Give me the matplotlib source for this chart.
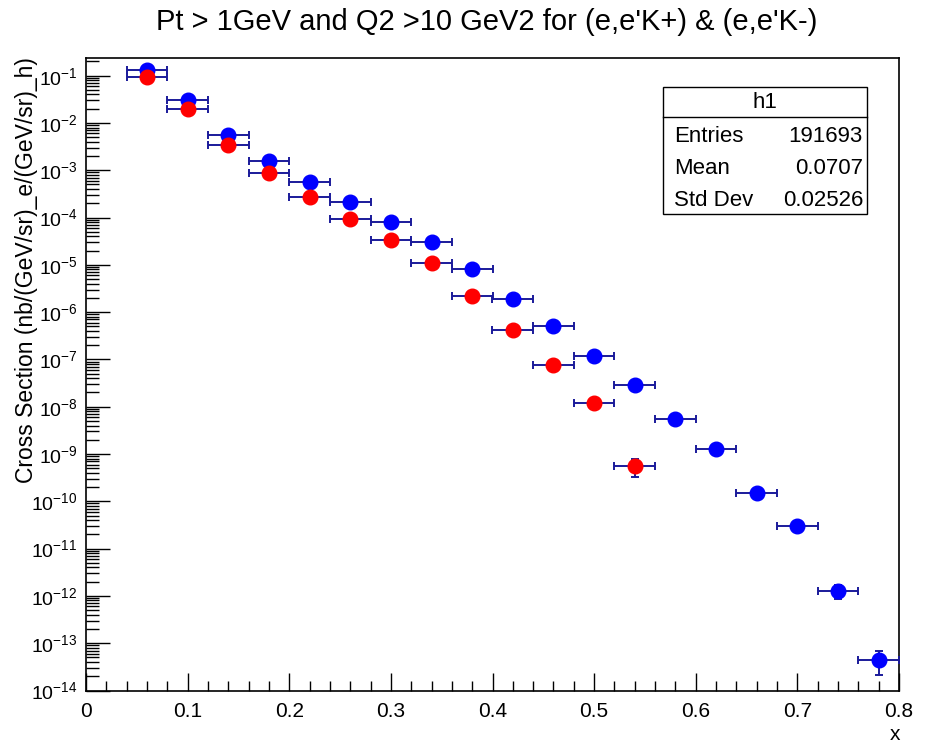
import numpy as np
import matplotlib
matplotlib.use("Agg")
import matplotlib.pyplot as plt
from matplotlib.ticker import LogLocator, MultipleLocator, LogFormatterSciNotation

plt.rcParams['font.family'] = ['Liberation Sans', 'DejaVu Sans']
plt.rcParams['mathtext.fontset'] = 'custom'
plt.rcParams['mathtext.rm'] = 'Liberation Sans'
plt.rcParams['mathtext.it'] = 'Liberation Sans:italic'

# ---- data ----
bin_width = 0.04
x_kplus = np.round(np.arange(0.06, 0.79, 0.04), 2)
y_kplus = [1.3e-1, 3.0e-2, 5.7e-3, 1.55e-3, 5.7e-4, 2.1e-4, 8.1e-5, 3.0e-5,
           8.1e-6, 1.9e-6, 5.0e-7, 1.2e-7, 2.9e-8, 5.6e-9, 1.26e-9, 1.5e-10,
           2.95e-11, 1.3e-12, 4.4e-14]
yerr_kplus = [1e-4, 3e-5, 6e-6, 2e-6, 7e-7, 3e-7, 1.2e-7, 5e-8,
              1.5e-8, 4e-9, 1.5e-9, 4e-10, 1.2e-10, 2.5e-11, 7e-12, 1.2e-12,
              3e-13, 4.3e-13, 2.3e-14]

x_kminus = np.round(np.arange(0.06, 0.55, 0.04), 2)
y_kminus = [9.2e-2, 2.0e-2, 3.4e-3, 8.8e-4, 2.7e-4, 9.5e-5, 3.3e-5, 1.1e-5,
            2.2e-6, 4.1e-7, 7.5e-8, 1.18e-8, 5.6e-10]
yerr_kminus = [1e-4, 3e-5, 5e-6, 1.5e-6, 5e-7, 2e-7, 8e-8, 3e-8,
               8e-9, 2e-9, 5e-10, 1e-10, 2.4e-10]

stats_labels = ['Entries', 'Mean', 'Std Dev']
stats_values = ['191693', '0.0707', '0.02526']

W, H = 932, 745
fig = plt.figure(figsize=(W / 100, H / 100), dpi=100)
ax = fig.add_axes([86 / W, 1 - 690.5 / H, 813 / W, 632.8 / H])

err_col = '#1a1a9a'
ax.errorbar(x_kplus, y_kplus, xerr=bin_width / 2, yerr=yerr_kplus, fmt='o',
            color='#0000ff', ms=10.5, mec='#0000ff', ecolor=err_col,
            elinewidth=1.4, capsize=3, capthick=1.4, zorder=3)
ax.errorbar(x_kminus, y_kminus, xerr=bin_width / 2, yerr=yerr_kminus, fmt='o',
            color='#ff0000', ms=10.5, mec='#ff0000', ecolor=err_col,
            elinewidth=1.4, capsize=3, capthick=1.4, zorder=4)

ax.set_yscale('log')
ax.set_xlim(0, 0.8)
ax.set_ylim(1e-14, 10 ** -0.62)

ax.xaxis.set_major_locator(MultipleLocator(0.1))
ax.xaxis.set_minor_locator(MultipleLocator(0.02))
ax.xaxis.set_major_formatter(plt.FuncFormatter(lambda v, p: '%g' % v))
ax.yaxis.set_major_locator(LogLocator(base=10, numticks=30))
ax.yaxis.set_minor_locator(LogLocator(base=10, subs=np.arange(2, 10), numticks=30))
ax.yaxis.set_major_formatter(LogFormatterSciNotation())

ax.tick_params(axis='both', which='both', direction='in', top=False, right=False,
               width=1.0)
ax.tick_params(axis='y', which='major', length=17, pad=6, labelsize=14)
ax.tick_params(axis='y', which='minor', length=9.5)
ax.tick_params(axis='x', which='major', length=13, pad=8, labelsize=15)
ax.tick_params(axis='x', which='minor', length=7)
for s in ax.spines.values():
    s.set_linewidth(1.2)

# titles
fig.text(487 / W, 1 - 22 / H, "Pt > 1GeV and Q2 >10 GeV2 for (e,e'K+) & (e,e'K-)",
         ha='center', va='center', fontsize=21)
fig.text(27 / W, 1 - 57 / H, 'Cross Section (nb/(GeV/sr)_e/(GeV/sr)_h)',
         rotation=90, ha='center', va='top', fontsize=16.5)
fig.text(900 / W, 1 - 735 / H, 'x', ha='right', va='center', fontsize=15)

# stats box
def fx(px):
    return px / W

def fy(py):
    return 1 - py / H

box = plt.Rectangle((fx(663), fy(214)), fx(867) - fx(663), fy(87) - fy(214),
                    transform=fig.transFigure, fill=True, facecolor='white',
                    edgecolor='black', lw=1.0, zorder=5)
fig.patches.append(box)
fig.lines.append(plt.Line2D([fx(663), fx(867)], [fy(117), fy(117)],
                            transform=fig.transFigure, color='black', lw=1.0,
                            zorder=6))
fig.text(fx(765), fy(102), 'h1', ha='center', va='center', fontsize=16, zorder=7)
for i, (lab, val) in enumerate(zip(stats_labels, stats_values)):
    yy = fy(136 + 32 * i)
    fig.text(fx(674), yy, lab, ha='left', va='center', fontsize=16, zorder=7)
    fig.text(fx(863), yy, val, ha='right', va='center', fontsize=16, zorder=7)

fig.savefig('out.png', dpi=100)
